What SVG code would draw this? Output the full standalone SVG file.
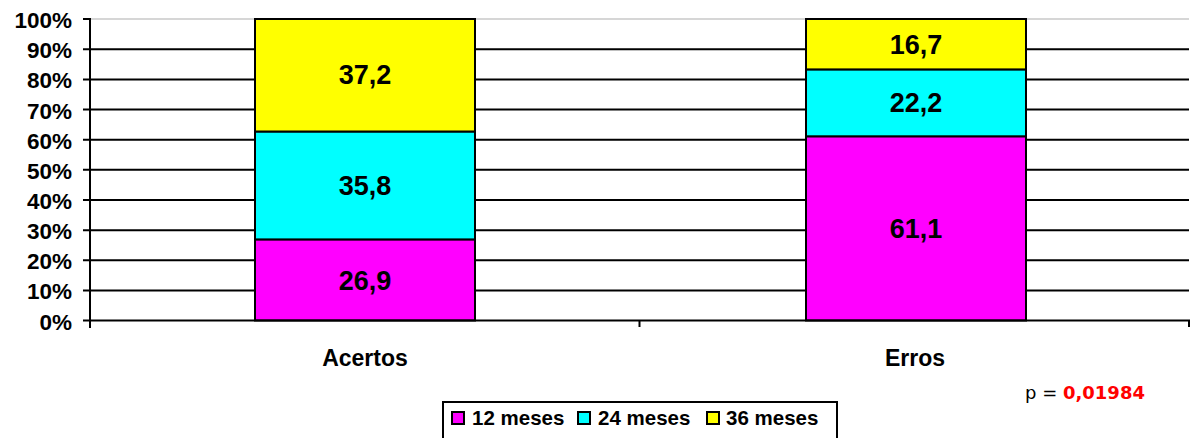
<svg xmlns="http://www.w3.org/2000/svg" width="1191" height="438" viewBox="0 0 1191 438">
<style>
.grid{stroke:#000;stroke-width:2}
.ax{font-family:"Liberation Sans",Arial,sans-serif;font-weight:bold;font-size:22.5px;fill:#000}
.cat{font-family:"Liberation Sans",Arial,sans-serif;font-weight:bold;font-size:23px;fill:#000;text-anchor:middle}
.leg{font-family:"Liberation Sans",Arial,sans-serif;font-weight:bold;font-size:20.5px;fill:#000}
.val{font-family:"Liberation Sans",Arial,sans-serif;font-weight:bold;font-size:27px;fill:#000;text-anchor:middle}
.seg{stroke:#000;stroke-width:2}
.sw{stroke:#000;stroke-width:2}
.m{fill:#ff00ff}.c{fill:#00ffff}.y{fill:#ffff00}
</style>
<rect width="1191" height="438" fill="#fff"/>
<g id="grid">
<line x1="90" y1="19" x2="1189" y2="19" stroke="#c8c8c8" stroke-width="1.5"/>
<line class="grid" x1="83" y1="49.2" x2="1189" y2="49.2"/>
<line class="grid" x1="83" y1="79.4" x2="1189" y2="79.4"/>
<line class="grid" x1="83" y1="109.6" x2="1189" y2="109.6"/>
<line class="grid" x1="83" y1="139.7" x2="1189" y2="139.7"/>
<line class="grid" x1="83" y1="169.8" x2="1189" y2="169.8"/>
<line class="grid" x1="83" y1="200" x2="1189" y2="200"/>
<line class="grid" x1="83" y1="230.2" x2="1189" y2="230.2"/>
<line class="grid" x1="83" y1="260.3" x2="1189" y2="260.3"/>
<line class="grid" x1="83" y1="290.4" x2="1189" y2="290.4"/>
<line class="grid" x1="83" y1="19" x2="90" y2="19"/>
</g>
<g id="axis-labels" class="ax" text-anchor="end">
<text x="72" y="28">100%</text>
<text x="72" y="58.2">90%</text>
<text x="72" y="88.4">80%</text>
<text x="72" y="118.6">70%</text>
<text x="72" y="148.7">60%</text>
<text x="72" y="178.8">50%</text>
<text x="72" y="209">40%</text>
<text x="72" y="239.2">30%</text>
<text x="72" y="269.3">20%</text>
<text x="72" y="299.4">10%</text>
<text x="72" y="329.5">0%</text>
</g>
<g id="bar-acertos">
<rect class="seg m" x="255" y="239.4" width="220" height="81.1"/>
<rect class="seg c" x="255" y="131.5" width="220" height="107.9"/>
<rect class="seg y" x="255" y="19" width="220" height="112.5"/>
<text class="val" x="365" y="290">26,9</text>
<text class="val" x="365" y="195">35,8</text>
<text class="val" x="365" y="84">37,2</text>
</g>
<g id="bar-erros">
<rect class="seg m" x="806" y="136.3" width="220" height="184.2"/>
<rect class="seg c" x="806" y="69.4" width="220" height="66.9"/>
<rect class="seg y" x="806" y="19" width="220" height="50.4"/>
<text class="val" x="916" y="238">61,1</text>
<text class="val" x="916" y="112">22,2</text>
<text class="val" x="916" y="54">16,7</text>
</g>
<g id="axes">
<line x1="90" y1="18" x2="90" y2="328" stroke="#000" stroke-width="2"/>
<line x1="83" y1="320.5" x2="1190" y2="320.5" stroke="#000" stroke-width="2"/>
<line x1="639.5" y1="320.5" x2="639.5" y2="327" stroke="#000" stroke-width="2"/>
<line x1="1189" y1="320.5" x2="1189" y2="327" stroke="#000" stroke-width="2"/>
</g>
<g id="categories" class="cat">
<text x="365" y="366">Acertos</text>
<text x="915" y="366">Erros</text>
</g>
<g id="pvalue" font-family="'DejaVu Sans',Verdana,sans-serif" font-size="18">
<text x="1025" y="399" fill="#000">p = <tspan fill="#ff0000" font-weight="bold">0,01984</tspan></text>
</g>
<g id="legend">
<rect x="443" y="402" width="394" height="40" fill="#fff" stroke="#000" stroke-width="2"/>
<rect class="sw m" x="452" y="412" width="12" height="12"/>
<rect class="sw c" x="578" y="412" width="12" height="12"/>
<rect class="sw y" x="707" y="412" width="12" height="12"/>
<text class="leg" x="472" y="425">12 meses</text>
<text class="leg" x="598" y="425">24 meses</text>
<text class="leg" x="726" y="425">36 meses</text>
</g>
</svg>
